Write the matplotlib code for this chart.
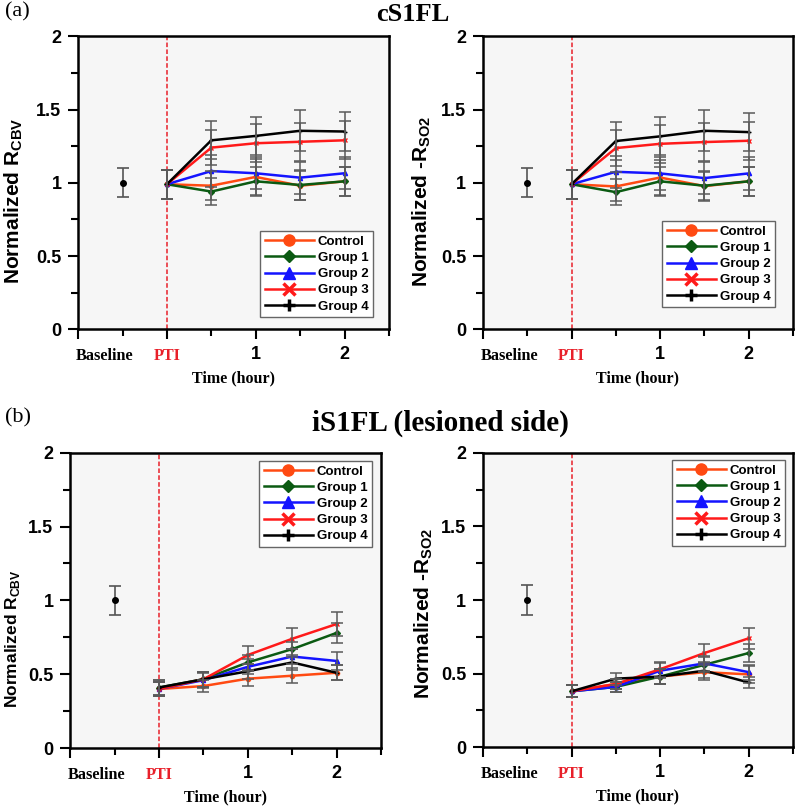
import matplotlib
matplotlib.use('Agg')
from matplotlib import pyplot as plt
from matplotlib.lines import Line2D

plt.rcParams['font.family'] = 'Liberation Sans'
plt.rcParams['font.weight'] = 'bold'
plt.rcParams['axes.labelweight'] = 'bold'
plt.rcParams['mathtext.fontset'] = 'custom'
plt.rcParams['mathtext.rm'] = 'Liberation Sans:bold'
plt.rcParams['mathtext.bf'] = 'Liberation Sans:bold'

times = [0, 0.5, 1, 1.5, 2]
groups = ['Control', 'Group 1', 'Group 2', 'Group 3', 'Group 4']
colors = ['#ff4a12', '#0b5a12', '#1414ff', '#ff1a1a', '#000000']
markers = ['o', 'D', '^', 'x', '+']

baseline_x = -0.5
baseline_val = 1.0
baseline_err = 0.1

# (a) cS1FL, values per group over times
cs1fl_cbv = [[0.99, 0.98, 1.04, 0.98, 1.01],
             [0.99, 0.94, 1.01, 0.985, 1.01],
             [0.99, 1.08, 1.065, 1.035, 1.065],
             [0.99, 1.24, 1.27, 1.28, 1.29],
             [0.99, 1.29, 1.32, 1.355, 1.35]]
cs1fl_cbv_err = [[0.10, 0.10, 0.12, 0.10, 0.10],
                 [0.10, 0.09, 0.10, 0.10, 0.10],
                 [0.10, 0.11, 0.11, 0.11, 0.11],
                 [0.10, 0.12, 0.13, 0.13, 0.13],
                 [0.10, 0.13, 0.13, 0.14, 0.13]]
cs1fl_so2 = [[0.99, 0.975, 1.036, 0.977, 1.01],
             [0.99, 0.936, 1.01, 0.98, 1.01],
             [0.99, 1.075, 1.064, 1.032, 1.064],
             [0.99, 1.237, 1.266, 1.278, 1.287],
             [0.99, 1.285, 1.317, 1.355, 1.346]]
cs1fl_so2_err = [[0.10, 0.10, 0.12, 0.10, 0.10],
                 [0.10, 0.09, 0.10, 0.10, 0.10],
                 [0.10, 0.11, 0.11, 0.11, 0.11],
                 [0.10, 0.12, 0.13, 0.13, 0.13],
                 [0.10, 0.13, 0.13, 0.14, 0.13]]

# (b) iS1FL (lesioned side)
is1fl_cbv = [[0.40, 0.42, 0.47, 0.49, 0.51],
             [0.41, 0.466, 0.58, 0.67, 0.78],
             [0.40, 0.46, 0.55, 0.62, 0.59],
             [0.40, 0.466, 0.63, 0.74, 0.84],
             [0.41, 0.466, 0.52, 0.58, 0.51]]
is1fl_cbv_err = [[0.05, 0.04, 0.05, 0.05, 0.05],
                 [0.05, 0.05, 0.05, 0.05, 0.07],
                 [0.05, 0.05, 0.05, 0.05, 0.06],
                 [0.05, 0.05, 0.06, 0.07, 0.08],
                 [0.05, 0.05, 0.05, 0.05, 0.05]]
is1fl_so2 = [[0.38, 0.43, 0.48, 0.51, 0.495],
             [0.38, 0.41, 0.48, 0.56, 0.64],
             [0.38, 0.41, 0.52, 0.57, 0.51],
             [0.38, 0.43, 0.53, 0.64, 0.74],
             [0.38, 0.466, 0.48, 0.52, 0.44]]
is1fl_so2_err = [[0.04, 0.035, 0.05, 0.05, 0.06],
                 [0.04, 0.035, 0.05, 0.05, 0.06],
                 [0.04, 0.035, 0.05, 0.05, 0.05],
                 [0.04, 0.035, 0.05, 0.06, 0.07],
                 [0.04, 0.04, 0.05, 0.05, 0.04]]

fig = plt.figure(figsize=(7.97, 8.07), dpi=100)
ax1 = fig.add_axes([0.098, 0.592, 0.390, 0.363])
ax2 = fig.add_axes([0.606, 0.592, 0.389, 0.363])
ax3 = fig.add_axes([0.088, 0.073, 0.390, 0.366])
ax4 = fig.add_axes([0.606, 0.074, 0.389, 0.365])


def draw_panel(ax, vals, errs, ylabel, ylab_size, ylab_pos, legend_loc, legend_anchor):
    ax.set_facecolor('#f6f6f6')
    ax.axvline(0, color='#e8202a', ls=(0, (3, 1.5)), lw=1.1, zorder=1)
    ax.errorbar(baseline_x, baseline_val, yerr=baseline_err, fmt='o', color='black',
                ms=4, ecolor='#555555', elinewidth=1.2, capsize=4, capthick=1.2)
    for i in range(len(groups)):
        ax.plot(times, vals[i], color=colors[i], marker=markers[i], ms=3, lw=1.8, zorder=3)
    for i in range(len(groups)):
        ax.errorbar(times, vals[i], yerr=errs[i], fmt='none', ecolor='#5a5a5a',
                    elinewidth=1.1, capsize=4, capthick=1.1, zorder=4)

    ax.set_xlim(-1, 2.5)
    ax.set_ylim(0, 2)
    ax.set_xticks([-1, 0, 1, 2])
    ax.set_xticklabels(['', '', '1', '2'])
    ax.set_xticks([-0.5, 0.5, 1.5, 2.5], minor=True)
    ax.set_yticks([0, 0.5, 1, 1.5, 2])
    ax.set_yticklabels(['0', '0.5', '1', '1.5', '2'])
    ax.set_yticks([0.25, 0.75, 1.25, 1.75], minor=True)
    ax.tick_params(axis='both', which='major', length=7, width=1.5, labelsize=13, pad=5)
    ax.tick_params(axis='both', which='minor', length=5, width=1.5)
    for s in ax.spines.values():
        s.set_linewidth(1.8)

    ax.text(-0.7, -0.092, 'Baseline', transform=ax.get_xaxis_transform(), ha='center',
            va='center', family='Liberation Serif', fontsize=11.7)
    ax.text(0, -0.092, 'PTI', transform=ax.get_xaxis_transform(), ha='center',
            va='center', family='Liberation Serif', fontsize=11.7, color='#e8202a')
    ax.set_xlabel('Time (hour)', family='Liberation Serif', fontsize=11.5)
    ax.xaxis.set_label_coords(0.5, -0.14)
    ax.set_ylabel(ylabel, fontsize=ylab_size)
    ax.yaxis.set_label_coords(ylab_pos[0], ylab_pos[1])

    handles = []
    for i in range(len(groups)):
        handles.append(Line2D([], [], color=colors[i], marker=markers[i], lw=1.8,
                              ms=8 if markers[i] != 'D' else 6.5, mew=2.5 if markers[i] in 'x+' else 1))
    ax.legend(handles, groups, loc=legend_loc, bbox_to_anchor=legend_anchor, fontsize=9.5,
              handlelength=3.7, labelspacing=0.3, borderpad=0.35, handletextpad=0.3,
              borderaxespad=0, fancybox=False, edgecolor='#666666', framealpha=1)


draw_panel(ax1, cs1fl_cbv, cs1fl_cbv_err, 'Normalized R$_{\\mathrm{CBV}}$', 15, (-0.172, 0.44),
           'lower right', (0.949, 0.041))
draw_panel(ax2, cs1fl_so2, cs1fl_so2_err, 'Normalized -R$_{\\mathrm{SO2}}$', 15, (-0.161, 0.435),
           'lower right', (0.942, 0.075))
draw_panel(ax3, is1fl_cbv, is1fl_cbv_err, 'Normalized R$_{\\mathrm{CBV}}$', 12.5, (-0.154, 0.37),
           'upper right', (0.971, 0.973))
draw_panel(ax4, is1fl_so2, is1fl_so2_err, 'Normalized -R$_{\\mathrm{SO2}}$', 15, (-0.155, 0.456),
           'upper right', (0.974, 0.976))

fig.text(0.006, 0.985, '(a)', family='Liberation Serif', fontweight='normal', fontsize=16, va='center')
fig.text(0.518, 0.982, 'cS1FL', family='Liberation Serif', fontsize=19, ha='center', va='center')
fig.text(0.006, 0.482, '(b)', family='Liberation Serif', fontweight='normal', fontsize=16, va='center')
fig.text(0.552, 0.476, 'iS1FL (lesioned side)', family='Liberation Serif', fontsize=21, ha='center', va='center')

plt.savefig('out.png', dpi=100)
